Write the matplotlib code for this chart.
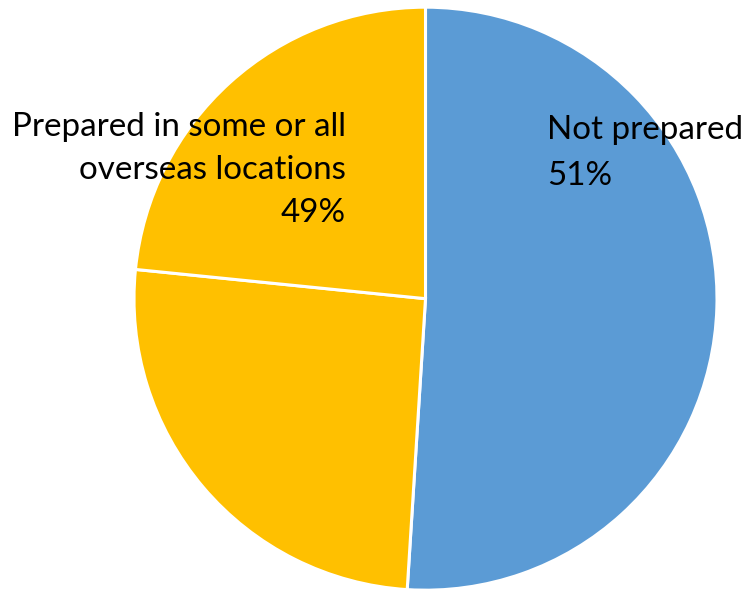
import matplotlib.pyplot as plt

# slice shares (percent), clockwise from 12 o'clock
shares = [51, 25.6, 23.4]
colors = ['#5B9BD5', '#FFC000', '#FFC000']
not_prepared = 'Not prepared\n51%'
prepared = 'Prepared in some or all\noverseas locations\n49%'

plt.rcParams['font.family'] = ['Lato', 'DejaVu Sans']

fig = plt.figure(figsize=(7.42, 5.89), dpi=100)
ax = fig.add_axes([134 / 742, -0.002, 583 / 742, 583 / 589])

ax.pie(shares, colors=colors, startangle=90, counterclock=False,
       radius=1.0, wedgeprops=dict(edgecolor='white', linewidth=2.2))
ax.set_xlim(-1, 1)
ax.set_ylim(-1, 1)
ax.set_aspect('equal')
ax.axis('off')

ax.text(0.417, 0.63, not_prepared, ha='left', va='top', fontsize=23.9,
        linespacing=1.65, color='black')
ax.text(-0.273, 0.642, prepared, ha='right', va='top', fontsize=23.9,
        linespacing=1.55, color='black')

fig.savefig('out.png', dpi=100)
